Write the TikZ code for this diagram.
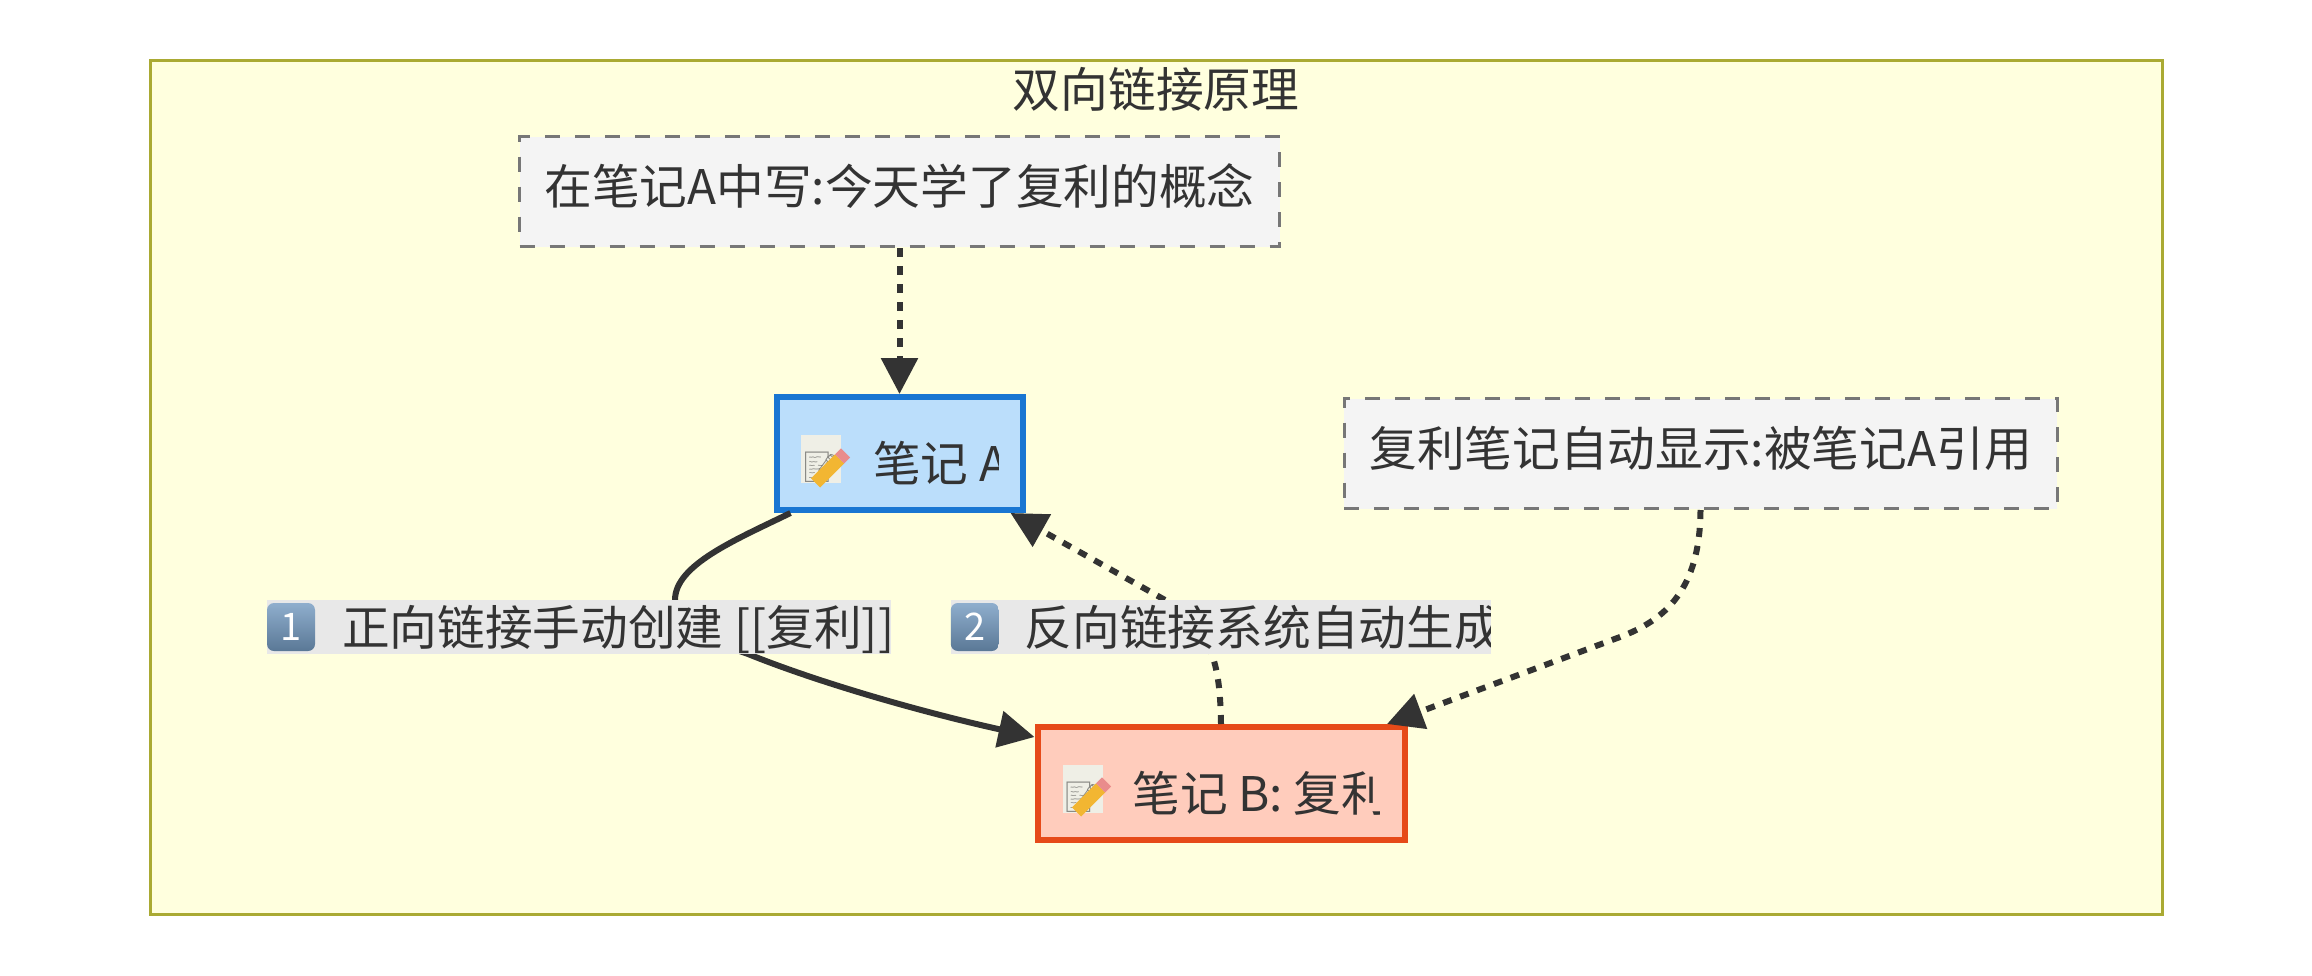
\documentclass[tikz,border=0pt]{standalone}
\usepackage{fontspec}
\usepackage{trimclip}
\usetikzlibrary{positioning, calc, arrows.meta}
\setmainfont{Noto Sans CJK SC}
\newfontfamily\emojifont{Noto Emoji}
\definecolor{inktext}{HTML}{333333}
\definecolor{groupfill}{HTML}{FFFFDE}
\definecolor{groupline}{HTML}{AAAA33}
\definecolor{hintfill}{HTML}{F4F4F4}
\definecolor{hintline}{HTML}{777777}
\definecolor{afill}{HTML}{BBDEFB}
\definecolor{aline}{HTML}{1976D2}
\definecolor{bfill}{HTML}{FFCCBC}
\definecolor{bline}{HTML}{E64A19}
\definecolor{labelfill}{HTML}{E8E8E8}
\definecolor{memopaper}{HTML}{EFEFE6}
\definecolor{memoink}{HTML}{8A8A85}
\definecolor{pencilbody}{HTML}{F2B632}
\definecolor{pencilend}{HTML}{E98C8C}
\definecolor{keytop}{HTML}{8FAECD}
\definecolor{keybottom}{HTML}{5A7896}

\newsavebox\clipbuf
\newlength\cliptrim
\newcommand{\cliptext}[2]{\sbox\clipbuf{#2}%
  \setlength\cliptrim{\wd\clipbuf}\addtolength\cliptrim{-#1}%
  \clipbox{0pt 0pt {\cliptrim} 0pt}{\usebox\clipbuf}}
\newcommand{\memoicon}{\raisebox{-1pt}{\setlength\fboxsep{0pt}\colorbox{memopaper}{%
  \makebox[20pt]{\rule{0pt}{24pt}\textcolor{memoink}{\fontsize{15pt}{15pt}\emojifont\raisebox{3pt}{📝}}}}}}
\newcommand{\memopencil}[2]{
  \draw[line width=6.5pt, color=pencilbody] ($(#1)+(#2)$) -- ++(24,-24);
  \draw[line width=6.5pt, color=pencilend] ($(#1)+(#2)+(24,-24)$) -- ++(6,-6);}

\begin{document}
\begin{tikzpicture}[x=0.5pt, y=-0.5pt,
  font=\fontsize{23.85pt}{28pt}\selectfont,
  text=inktext,
  >={Triangle[length=18pt, width=18pt]},
  groupbox/.style={
    rectangle,
    draw=groupline,
    fill=groupfill,
    line width=1.5pt,
    inner sep=0pt,
    minimum width=1006pt,
    minimum height=427.25pt},
  hintbox/.style={
    rectangle,
    draw=hintline,
    fill=hintfill,
    line width=1.5pt,
    dash pattern=on 7.5pt off 7.5pt,
    inner sep=0pt,
    text height=25pt,
    text depth=12.5pt,
    minimum height=55pt},
  notebox/.style={
    rectangle,
    line width=3pt,
    inner sep=0pt,
    text height=40pt,
    text depth=12.5pt,
    minimum height=56.5pt},
  linklabel/.style={
    rectangle,
    fill=labelfill,
    inner sep=0pt,
    text height=22pt,
    text depth=4pt,
    minimum height=27pt},
  keycap/.style={
    rectangle,
    rounded corners=3.5pt,
    top color=keytop,
    bottom color=keybottom,
    text=white,
    inner sep=0pt,
    minimum size=24pt,
    font=\fontsize{19pt}{19pt}\selectfont},
  linkline/.style={->, draw=inktext, line width=3pt},
  backline/.style={linkline, dash pattern=on 4.5pt off 4.5pt}]

  \useasboundingbox (0,0) rectangle (2312,975);

  \node [groupbox] (group) at (1156,487.25) {};
  \node [below=1pt of group.north] (grouptitle) {双向链接原理};

  \node [hintbox, minimum width=380pt] (writehint) at (899.5,191.5)
    {在笔记A中写:今天学了复利的概念};

  \node [notebox, 
    draw=aline, 
    fill=afill, 
    minimum width=123pt, 
    below=73pt of writehint] (noteA) {
    \cliptext{98.5pt}{\memoicon\hspace*{16pt}笔记 A}
  };

  \node [hintbox, 
    minimum width=356.5pt, 
    right=158.5pt of noteA] (showhint)
    {复利笔记自动显示:被笔记A引用};

  \node [notebox, 
    draw=bline, 
    fill=bfill, 
    minimum width=183.5pt, 
    below=105.5pt of noteA, 
    xshift=160.75pt] (noteB) {
    \cliptext{158.5pt}{\memoicon\hspace*{15pt}笔记 B: 复利}
  };

  \memopencil{noteA.center}{-84,29.5}
  \memopencil{noteB.center}{-144.5,28.5}

  % LINKS

  \draw[backline] (writehint.south) -- (noteA.north);

  \draw[linkline] ($(noteA.south west)+(17,0)$) 
  .. controls (735,540) and (675,565) .. (675,600) 
  .. controls (675,630) and (712,641) .. (748,654) 
  .. controls (825,685) and (930,714) .. ($(noteB.north west)+(0,13)$);

  \draw[backline] (noteB.north) 
  .. controls (1220,670) and (1215,630) .. (1165,600) 
  -- ($(noteA.south east)+(-15,0)$);

  \draw[backline] (showhint.south) 
  .. controls (1700,590) and (1665,620) .. (1620,637) 
  -- ($(noteB.north east)+(-20.5,0)$);

  % LABELS

  \node [linklabel] (linkone) at (579,627) {%
    \hspace*{37.5pt}\cliptext{274.5pt}{正向链接手动创建 [[复利]]}};
  \node [linklabel, right=29.5pt of linkone] (linktwo) {%
    \hspace*{37pt}\cliptext{233pt}{反向链接系统自动生成}};

  \node [keycap, right=0pt of linkone.west] (keyone) {1};
  \node [keycap, right=0pt of linktwo.west] (keytwo) {2};

\end{tikzpicture}
\end{document}
